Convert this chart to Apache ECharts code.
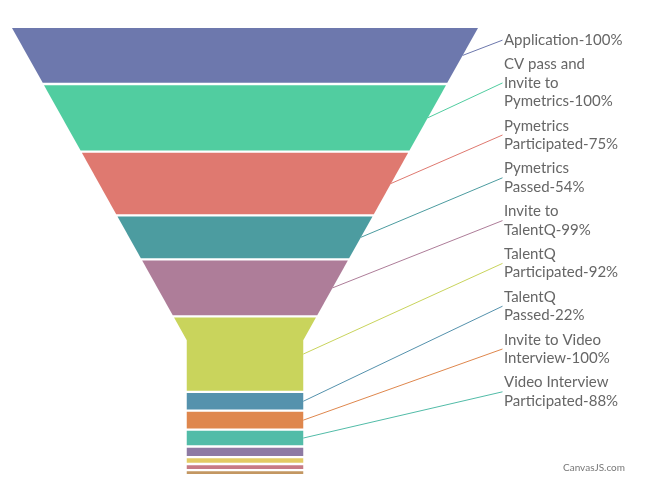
<!DOCTYPE html>
<html><head><meta charset="utf-8">
<script src="https://cdn.jsdelivr.net/npm/echarts/dist/echarts.min.js"></script>
<style>html,body{margin:0;padding:0;background:#fff}#c{width:650px;height:496px}</style>
</head><body><div id="c"></div>
<script>
// ---- data ----
const categories = ["Application", "CV pass and Invite to Pymetrics", "Pymetrics Participated", "Pymetrics Passed",
  "Invite to TalentQ", "TalentQ Participated", "TalentQ Passed", "Invite to Video Interview",
  "Video Interview Participated", "", "", "", ""];
const values = [1000, 1000, 750, 405, 401, 369, 81, 81, 71, 41, 22, 19, 13];
const colors = ["#6D78AD", "#51CDA0", "#DF7970", "#4C9CA0", "#AE7D99", "#C9D45C", "#5592AD",
  "#DF874D", "#52BCA8", "#8E7AA3", "#E3CB64", "#C77B85", "#C39762"];
// percentage of each stage relative to the previous stage
const percents = values.map((v, i) => i === 0 ? 100 : Math.round(v / values[i - 1] * 100));

// ---- style ----
const NECK_H = 0.3, NECK_W = 0.25, GAP = 2.3;
const FONT = '15px Lato', LINE_H = 18.5, LABEL_PAD = 2.9, WRAP_W = 120, LABEL_DX = 26;
const measureCtx = document.createElement('canvas').getContext('2d');
function wrap(text) {
  measureCtx.font = FONT;
  const words = text.split(' '); const lines = []; let cur = '';
  for (const w of words) {
    const t = cur ? cur + ' ' + w : w;
    if (cur && measureCtx.measureText(t).width > WRAP_W) { lines.push(cur); cur = w; } else cur = t;
  }
  if (cur) lines.push(cur);
  return lines;
}

let layoutCache = null;
function getLayout(api) {
  if (layoutCache) return layoutCache;
  const tl = api.coord([-0.5, 0]), br = api.coord([0.5, 1]);
  const left = tl[0], top = tl[1], right = br[0], bottom = br[1];
  const W = right - left, cx = (left + right) / 2;
  const ny = api.coord([0, 1 - NECK_H])[1];
  const Wn = W * NECK_W;
  const width = y => y < ny ? W - (W - Wn) * (y - top) / (ny - top) : Wn;
  const A = y => y <= ny ? W * (y - top) - (W - Wn) * (y - top) * (y - top) / (2 * (ny - top))
                         : A(ny) + Wn * (y - ny);
  const invA = a => { let lo = top, hi = bottom + 2000; for (let k = 0; k < 60; k++) { const m = (lo + hi) / 2; if (A(m) < a) lo = m; else hi = m; } return (lo + hi) / 2; };
  const sum = values.reduce((s, v) => s + v, 0);
  const run = k => { let y = top; const segs = []; for (const v of values) { const y1 = invA(A(y) + k * v); segs.push([y, y1]); y = y1 + GAP; } return segs; };
  let lo = 0, hi = A(bottom) / sum, segs;
  for (let it = 0; it < 60; it++) { const m = (lo + hi) / 2; segs = run(m); if (segs[segs.length - 1][1] > bottom) hi = m; else lo = m; }
  segs = run((lo + hi) / 2);
  // labels stacked from the top
  let ly = top; const labels = [];
  values.forEach((v, i) => {
    if (!categories[i]) { labels.push(null); return; }
    const lines = wrap(categories[i] + '-' + percents[i] + '%');
    const h = lines.length * LINE_H + 2 * LABEL_PAD;
    labels.push({ lines, top: ly, center: ly + h / 2 });
    ly += h;
  });
  layoutCache = { left, top, right, bottom, cx, ny, width, segs, labels };
  return layoutCache;
}

function renderItem(params, api) {
  const i = params.dataIndex;
  const L = getLayout(api);
  const [ya, yb] = L.segs[i];
  const hw = y => L.width(y) / 2;
  const pts = [[L.cx - hw(ya), ya], [L.cx + hw(ya), ya]];
  if (ya < L.ny && yb > L.ny) pts.push([L.cx + hw(L.ny), L.ny]);
  pts.push([L.cx + hw(yb), yb], [L.cx - hw(yb), yb]);
  if (ya < L.ny && yb > L.ny) pts.push([L.cx - hw(L.ny), L.ny]);
  const children = [{ type: 'polygon', shape: { points: pts }, style: { fill: colors[i] } }];
  const lab = L.labels[i];
  if (lab) {
    const my = (ya + yb) / 2;
    const lx = L.right + LABEL_DX;
    children.push({ type: 'line', shape: { x1: L.cx + hw(my), y1: my, x2: lx - 1.5, y2: lab.center },
      style: { stroke: colors[i], lineWidth: 1 } });
    lab.lines.forEach((t, j) => {
      children.push({ type: 'text', style: { text: t, x: lx, y: lab.top + LABEL_PAD + LINE_H * (j + 0.5),
        font: FONT, fill: '#666666', align: 'left', verticalAlign: 'middle' } });
    });
  }
  return { type: 'group', children };
}

const chart = echarts.init(document.getElementById('c'), null, { renderer: 'canvas' });
chart.setOption({
  animation: false,
  backgroundColor: '#ffffff',
  grid: { left: 12, top: 28, width: 466, height: 446 },
  xAxis: { type: 'value', min: -0.5, max: 0.5, show: false },
  yAxis: { type: 'value', min: 0, max: 1, inverse: true, show: false },
  graphic: [{ type: 'text', right: 25, bottom: 23, style: { text: 'CanvasJS.com', font: '10px Lato', fill: '#777777' } }],
  series: [{
    type: 'custom', clip: false, renderItem,
    data: values.map((v, i) => ({ name: categories[i], value: [0, v] }))
  }]
});
</script></body></html>
